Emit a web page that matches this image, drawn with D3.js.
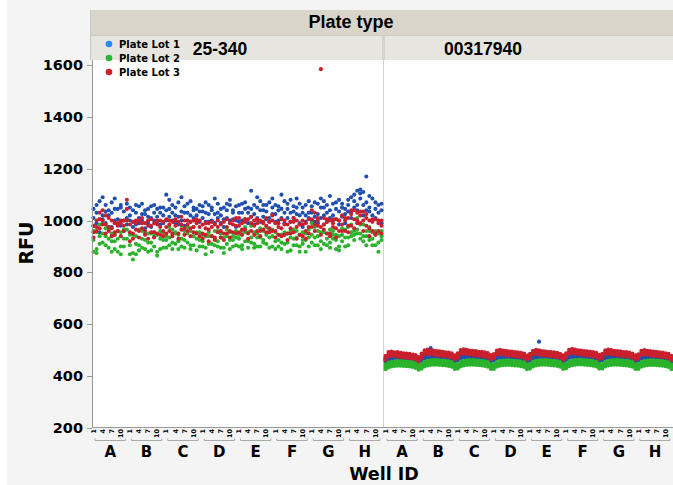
<!DOCTYPE html>
<html>
<head>
<meta charset="utf-8">
<script src="https://cdn.jsdelivr.net/npm/d3@7"></script>
<style>
  body { margin: 0; background: #f4f4f4; }
  svg text { font-family: "DejaVu Sans", sans-serif; fill: #000; }
  svg text.arial { font-family: "Liberation Sans", Arial, sans-serif; }
</style>
</head>
<body>
<svg id="chart" width="673" height="485"></svg>
<script>
// ===============================
// Dades
// ===============================
const rowLetters = ["A", "B", "C", "D", "E", "F", "G", "H"];
const colNumbers = [1, 2, 3, 4, 5, 6, 7, 8, 9, 10, 11, 12];
const colTickLabels = [1, 4, 7, 10];
const plateTypes = ["25-340", "00317940"];
const lotNames = ["Plate Lot 1", "Plate Lot 2", "Plate Lot 3"];
const lotColors = ["#1f4fb0", "#2bb32b", "#c8202c"];
const legendColors = ["#2a8cff", "#22bb33", "#d02030"];
const yTicks = [200, 400, 600, 800, 1000, 1200, 1400, 1600];

// plate 25-340, Lot 1 (3 plaques per lot)
const p1Lot1a = [
  1045,990,1075,1020,1060,975,1030,1085,1005,1050,960,1010,
  1000,1040,985,1055,1025,970,1045,1010,1060,995,1030,1050,
  1100,1015,1060,990,1070,1035,980,1065,1020,1050,1000,1060,
  1035,1070,995,1050,1085,1010,1045,975,1040,1060,1005,1055,
  1060,1000,1070,1030,1115,985,1050,1075,1015,1060,995,1050,
  1025,1055,1100,990,1045,1080,1010,1050,1065,975,1060,1030,
  1055,995,1065,1085,1020,1060,1095,1000,1070,1035,1050,990,
  1080,1030,1050,1115,1120,1060,1170,1035,1085,1010,1060,1040];
const p1Lot1b = [
  1010,1060,1005,1090,990,1040,1070,1000,1045,980,1035,1065,
  1050,995,1030,1010,1065,1025,990,1055,1000,1045,985,1020,
  1040,1080,1000,1050,1015,1090,1030,1000,1075,1010,1045,995,
  1010,1030,1060,1000,1025,1065,990,1050,1010,1080,1040,1000,
  1030,1065,1005,1050,1045,1025,1090,995,1040,1005,1070,1025,
  1060,1000,1045,1075,1010,1030,1055,1025,990,1050,1020,1075,
  1000,1070,1025,1010,1050,995,1040,1065,1005,1080,1015,1045,
  1035,1090,1100,1060,1085,1110,1040,1095,1020,1070,1000,1065];
const p1Lot1c = [
  980,1030,955,1005,1035,1020,975,1045,985,1060,1000,985,
  1020,975,1060,990,1000,1040,1015,975,1030,1015,1050,990,
  1000,1045,1030,1020,985,1000,1055,1030,995,1040,1020,1035,
  1055,995,1025,1040,990,1030,1020,1005,1065,1000,1030,975,
  995,1030,1045,990,1015,1060,1010,1040,1060,1035,1010,1085,
  995,1040,1010,1030,1065,995,1035,1085,1020,1030,995,1010,
  1030,1015,990,1050,1075,1030,1010,1020,1045,985,1065,1025,
  1060,1010,1075,1040,1105,1020,1070,1050,1000,1045,1030,990];

// plate 25-340, Lot 2
const p1Lot2a = [
  960,890,985,950,905,965,920,945,880,955,930,1000,
  905,945,870,965,930,890,950,915,955,880,960,925,
  940,975,915,950,890,980,925,950,905,975,930,955,
  900,940,955,880,960,920,950,895,965,925,900,960,
  945,905,955,920,980,910,950,970,915,975,935,900,
  920,945,890,955,915,935,965,905,945,925,880,965,
  990,935,960,920,955,905,965,930,945,900,970,935,
  935,985,945,1010,930,985,960,925,955,905,950,925];
const p1Lot2b = [
  925,955,910,990,940,895,950,890,930,900,965,965,
  945,875,940,905,960,925,880,950,900,945,890,955,
  895,935,965,910,945,900,960,915,960,905,955,900,
  945,895,910,940,905,960,895,935,910,955,940,905,
  900,960,920,955,915,955,900,935,960,910,965,940,
  955,900,945,910,950,885,930,960,900,955,925,900,
  945,975,905,955,910,950,915,960,890,940,920,965,
  975,940,960,950,985,920,940,960,905,945,915,960];
const p1Lot2c = [
  880,875,940,915,970,930,880,920,960,870,900,930,
  870,850,910,885,895,950,915,885,940,865,930,895,
  925,905,890,955,920,930,895,975,890,940,885,925,
  920,870,940,910,930,900,935,875,940,890,925,935,
  930,890,975,895,935,895,935,900,925,945,895,965,
  890,925,915,945,880,960,905,935,880,910,950,935,
  915,905,940,890,985,930,895,945,925,885,945,900,
  905,955,925,965,950,940,905,975,930,960,880,940];

// plate 25-340, Lot 3
const p1Lot3a = [
  955,1000,1030,985,1020,960,1000,945,980,990,960,1080,
  985,950,990,960,1010,945,980,1005,955,985,1000,960,
  1005,960,995,1000,950,1015,970,985,995,955,990,1000,
  950,990,965,975,935,1000,985,950,1005,960,985,1010,
  1010,965,995,950,1015,980,990,960,995,1010,955,1020,
  960,990,1005,945,985,950,1010,975,985,940,990,1005,
  1040,985,1010,1584,965,995,950,1005,970,1000,1020,960,
  980,1025,1040,990,1035,1000,1010,970,995,950,990,1000];
const p1Lot3b = [
  980,960,1005,1040,985,1010,970,990,960,1000,980,1045,
  955,995,965,1000,970,990,1000,955,990,950,975,995,
  975,1000,950,980,995,965,1000,960,970,1000,950,975,
  985,945,990,940,985,955,960,995,950,990,955,980,
  955,990,965,1005,960,1000,960,1000,965,980,995,960,
  990,945,970,1000,950,995,955,1000,945,985,960,975,
  1005,1030,980,975,1010,950,1000,975,1005,960,985,1000,
  1010,980,1005,1030,990,1035,980,1000,960,1005,960,980];
const p1Lot3c = [
  935,975,970,1000,950,975,940,955,990,940,1000,1000,
  920,930,1000,935,990,960,930,980,935,1000,945,940,
  950,985,940,1005,930,985,945,1000,940,975,1005,940,
  930,970,920,995,925,975,935,925,975,935,1000,950,
  980,945,1005,930,990,945,1005,940,990,955,970,1000,
  935,975,940,985,925,970,995,930,985,1000,930,950,
  975,960,1000,945,985,1005,940,990,935,1000,960,1010,
  955,1040,970,1000,1020,960,1025,940,1005,945,1000,950];

// plate 00317940, Lot 1
const p2Lot1a = [
  468,474,476,475,475,474,473,472,472,471,469,464,
  472,480,482,481,480,479,478,477,476,475,473,467,
  473,481,483,482,481,480,479,478,477,476,474,468,
  472,480,482,481,480,479,478,477,476,475,473,467,
  472,480,482,481,480,479,478,477,476,475,473,467,
  474,482,484,483,482,481,480,479,478,477,475,469,
  473,481,483,482,481,480,479,478,477,476,474,468,
  471,479,481,480,479,478,477,476,475,474,472,466];
const p2Lot1b = [
  462,468,470,470,469,468,467,466,466,465,463,458,
  466,474,476,508,474,473,472,471,470,469,467,461,
  467,475,477,476,475,474,473,472,471,470,468,462,
  466,474,476,475,474,473,472,471,470,469,467,461,
  466,474,476,533,474,473,472,471,470,469,467,461,
  468,476,478,477,476,475,474,473,472,471,469,463,
  467,475,477,476,475,474,473,472,471,470,468,462,
  465,473,475,474,473,472,471,470,469,468,466,460];
const p2Lot1c = [
  456,462,464,464,463,462,461,460,460,459,457,452,
  460,468,470,469,468,467,466,465,464,463,461,455,
  461,469,471,470,469,468,467,466,465,464,462,456,
  460,468,470,469,468,467,466,465,464,463,461,455,
  460,468,470,469,468,467,466,465,464,463,461,455,
  462,470,472,471,470,469,468,467,466,465,463,457,
  461,469,471,470,469,468,467,466,465,464,462,456,
  459,467,469,468,467,466,465,464,463,462,460,454];

// plate 00317940, Lot 2
const p2Lot2a = [
  445,451,455,457,458,458,457,456,455,453,450,443,
  447,455,459,461,462,462,461,460,459,457,454,446,
  447,455,459,461,462,462,461,460,459,457,454,446,
  446,454,458,460,461,461,460,459,458,456,453,445,
  447,455,459,461,462,462,461,460,459,457,454,446,
  448,456,460,462,463,463,462,461,460,458,455,447,
  447,455,459,461,462,462,461,460,459,457,454,446,
  446,454,458,460,461,461,460,459,458,456,453,445];
const p2Lot2b = [
  436,442,446,448,449,449,448,447,446,444,441,434,
  438,446,450,452,453,453,452,451,450,448,445,437,
  438,446,450,452,453,453,452,451,450,448,445,437,
  437,445,449,451,452,452,451,450,449,447,444,436,
  438,446,450,452,453,453,452,451,450,448,445,437,
  439,447,451,453,454,454,453,452,451,449,446,438,
  438,446,450,452,453,453,452,451,450,448,445,437,
  437,445,449,451,452,452,451,450,449,447,444,436];
const p2Lot2c = [
  427,433,437,439,440,440,439,438,437,435,432,425,
  429,437,441,443,444,444,443,442,441,439,436,428,
  429,437,441,443,444,444,443,442,441,439,436,428,
  428,436,440,442,443,443,442,441,440,438,435,427,
  429,437,441,443,444,444,443,442,441,439,436,428,
  430,438,442,444,445,445,444,443,442,440,437,429,
  429,437,441,443,444,444,443,442,441,439,436,428,
  428,436,440,442,443,443,442,441,440,438,435,427];

// plate 00317940, Lot 3
const p2Lot3a = [
  478,493,495,492,493,490,488,487,486,483,481,474,
  487,500,503,500,499,497,496,494,492,491,488,480,
  488,501,504,502,499,498,497,494,494,492,489,481,
  485,499,502,499,498,496,495,493,492,490,487,479,
  486,498,502,500,497,496,494,493,492,490,486,480,
  488,502,505,503,500,499,497,496,494,493,490,482,
  486,500,503,501,498,497,496,493,493,491,487,480,
  484,498,501,498,497,495,494,492,491,488,486,478];
const p2Lot3b = [
  470,484,487,486,484,482,481,479,478,476,473,465,
  478,492,495,493,491,489,488,486,485,483,480,472,
  479,493,496,494,492,490,489,487,486,484,481,473,
  477,491,494,492,490,488,487,485,484,482,479,471,
  477,491,494,492,490,488,487,485,484,482,479,471,
  480,494,497,495,493,491,490,488,487,485,482,474,
  478,492,495,493,491,489,488,486,485,483,480,472,
  476,490,493,491,489,487,486,484,483,481,478,470];
const p2Lot3c = [
  462,476,479,478,476,474,473,471,470,468,465,457,
  470,484,487,485,483,481,480,478,477,475,472,464,
  471,485,488,486,484,482,481,479,478,476,473,465,
  469,483,486,484,482,480,479,477,476,474,471,463,
  469,483,486,484,482,480,479,477,476,474,471,463,
  472,486,489,487,485,483,482,480,479,477,474,466,
  470,484,487,485,483,481,480,478,477,475,472,464,
  468,482,485,483,481,479,478,476,475,473,470,462];

// [plate][lot] -> plaques (rèpliques)
const plateData = [
  [[p1Lot1a, p1Lot1b, p1Lot1c], [p1Lot2a, p1Lot2b, p1Lot2c], [p1Lot3a, p1Lot3b, p1Lot3c]],
  [[p2Lot1a, p2Lot1b, p2Lot1c], [p2Lot2a, p2Lot2b, p2Lot2c], [p2Lot3a, p2Lot3b, p2Lot3c]]
];

// ===============================
// Layout
// ===============================
const svg = d3.select("#chart");
const plotTop = 60, plotBottom = 428;
const panels = [
  { x0: 92, x1: 383, labelX: 220 },
  { x0: 384, x1: 673, labelX: 483 }
];

const wellIds = rowLetters.flatMap(r => colNumbers.map(c => r + c));

const y = d3.scaleLinear().domain([200, 1600]).range([428, 65]);

svg.append("rect").attr("width", 673).attr("height", 485).attr("fill", "#f4f4f4");
svg.append("rect").attr("width", 7).attr("height", 485).attr("fill", "#fff");

// capçalera
svg.append("rect").attr("x", 90).attr("y", 10).attr("width", 583).attr("height", 25).attr("fill", "#d9d5cb");
svg.append("rect").attr("x", 90).attr("y", 35).attr("width", 583).attr("height", 25).attr("fill", "#e6e5df");
svg.append("rect").attr("x", 382).attr("y", 35).attr("width", 3).attr("height", 25).attr("fill", "#d6d3ca");
svg.append("line").attr("x1", 90).attr("x2", 673).attr("y1", 35.5).attr("y2", 35.5).attr("stroke", "#cfcbc0");
svg.append("line").attr("x1", 90.5).attr("x2", 90.5).attr("y1", 10).attr("y2", 60).attr("stroke", "#c8c8c8");

svg.append("text")
  .attr("class", "arial")
  .attr("x", 351).attr("y", 28)
  .attr("text-anchor", "middle")
  .style("font-size", "18px").style("font-weight", "bold")
  .text("Plate type");

panels.forEach((p, pi) => {
  svg.append("text")
    .attr("class", "arial")
    .attr("x", p.labelX).attr("y", 55)
    .attr("text-anchor", "middle")
    .style("font-size", "17.5px").style("font-weight", "bold")
    .text(plateTypes[pi]);

  svg.append("rect")
    .attr("x", p.x0).attr("y", plotTop)
    .attr("width", p.x1 - p.x0).attr("height", plotBottom - plotTop)
    .attr("fill", "#fff");
});

// separador entre panells
svg.append("line")
  .attr("x1", 383.5).attr("x2", 383.5).attr("y1", plotTop).attr("y2", plotBottom)
  .attr("stroke", "#d4d4d4");

// ===============================
// Punts
// ===============================
panels.forEach((p, pi) => {
  const x = d3.scaleBand().domain(wellIds).range([p.x0, p.x1]);
  const g = svg.append("g");

  plateData[pi].forEach((reps, li) => {
    const pts = reps.flatMap(arr => arr.map((v, i) => ({ well: wellIds[i], v })));
    g.selectAll(null)
      .data(pts)
      .enter()
      .append("circle")
      .attr("cx", d => x(d.well) + x.bandwidth() / 2)
      .attr("cy", d => y(d.v))
      .attr("r", 2.05)
      .attr("fill", lotColors[li]);
  });

  // etiquetes de columna (1, 4, 7, 10)
  const tickWells = rowLetters.flatMap(r => colTickLabels.map(c => ({ id: r + c, c })));
  svg.append("g").selectAll("text")
    .data(tickWells)
    .enter()
    .append("text")
    .attr("transform", d => `translate(${x(d.id) + x.bandwidth() / 2 + 2.2}, 429) rotate(-90)`)
    .attr("text-anchor", "end")
    .style("font-size", "6.5px").style("font-weight", "bold")
    .text(d => d.c);

  // claus de grup + lletres
  const grp = d3.scaleBand().domain(rowLetters).range([p.x0, p.x1]);
  const gg = svg.append("g").selectAll("g")
    .data(rowLetters)
    .enter()
    .append("g");

  gg.append("path")
    .attr("d", d => {
      const a = grp(d) + 3, b = grp(d) + grp.bandwidth() - 3;
      return `M${a},438.5V440.5H${b}V438.5`;
    })
    .attr("fill", "none")
    .attr("stroke", "#aaa");

  gg.append("text")
    .attr("x", d => grp(d) + grp.bandwidth() / 2)
    .attr("y", 457)
    .attr("text-anchor", "middle")
    .style("font-size", "15px").style("font-weight", "bold")
    .text(d => d);
});

// ===============================
// Eixos
// ===============================
svg.append("line").attr("x1", 92.5).attr("x2", 92.5).attr("y1", plotTop).attr("y2", plotBottom).attr("stroke", "#999");
svg.append("line").attr("x1", 92).attr("x2", 673).attr("y1", 427.5).attr("y2", 427.5).attr("stroke", "#999");

const yAxis = svg.append("g");
yAxis.selectAll("line")
  .data(yTicks)
  .enter()
  .append("line")
  .attr("x1", 87).attr("x2", 92)
  .attr("y1", d => Math.round(y(d)) + 0.5).attr("y2", d => Math.round(y(d)) + 0.5)
  .attr("stroke", "#999");

yAxis.selectAll("text")
  .data(yTicks)
  .enter()
  .append("text")
  .attr("x", 83)
  .attr("y", d => y(d) + 5)
  .attr("text-anchor", "end")
  .style("font-size", "14.5px").style("font-weight", "bold")
  .text(d => d);

svg.append("text")
  .attr("transform", "translate(33, 243) rotate(-90)")
  .attr("text-anchor", "middle")
  .style("font-size", "19px").style("font-weight", "bold")
  .text("RFU");

svg.append("text")
  .attr("x", 384).attr("y", 480)
  .attr("text-anchor", "middle")
  .style("font-size", "17.5px").style("font-weight", "bold")
  .text("Well ID");

// ===============================
// Llegenda
// ===============================
const legend = svg.append("g").selectAll("g")
  .data(lotNames)
  .enter()
  .append("g")
  .attr("transform", (d, i) => `translate(109, ${44 + i * 14})`);

legend.append("circle").attr("r", 3.3).attr("fill", (d, i) => legendColors[i]);
legend.append("text")
  .attr("x", 10).attr("y", 4)
  .style("font-size", "10px").style("font-weight", "bold")
  .text(d => d);
</script>
</body>
</html>
